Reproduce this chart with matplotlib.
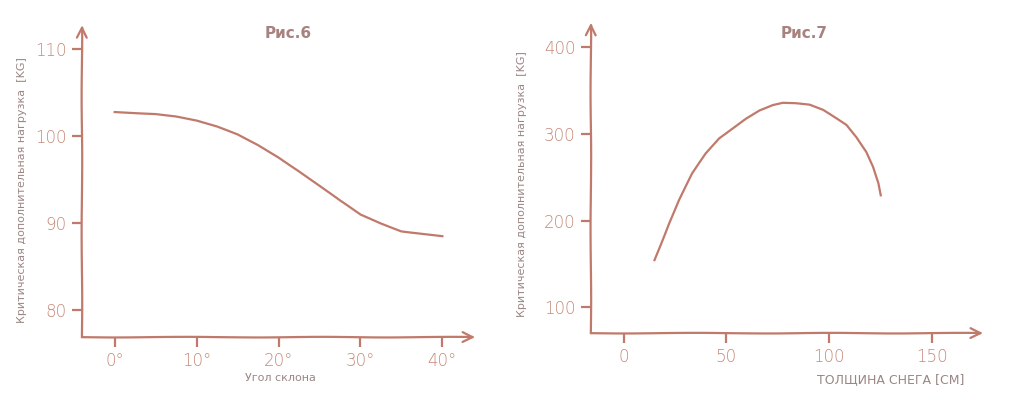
import matplotlib
matplotlib.use("Agg")
import matplotlib.pyplot as plt

# Рис.6 - угол склона vs нагрузка
angle = [0, 2.5, 5, 7.5, 10, 12.5, 15, 17.5, 20, 22.5, 25, 27.5, 30, 32.5, 35, 37.5, 40]
load6 = [102.8, 102.7, 102.6, 102.3, 101.8, 101.1, 100.2, 99.0, 97.6, 96.0, 94.3, 92.6, 91.0, 90.0, 89.1, 88.8, 88.5]

# Рис.7 - толщина снега vs нагрузка
depth = [15, 17.9, 22, 26.9, 33.4, 40, 46.5, 53, 59.5, 66.1, 72.6, 77.5, 84,
         90.5, 97.1, 103.6, 108.5, 113.4, 118.3, 121.5, 124, 125.1]
load7 = [154.5, 171.7, 196.7, 223.5, 254, 277, 294.5, 306, 317.5, 327, 333, 335.5,
         334.8, 333, 327, 317.5, 310, 296, 279, 262, 243, 229]

xt6 = [0, 10, 20, 30, 40]
xt6_lab = ["0°", "10°", "20°", "30°", "40°"]
yt6 = [80, 90, 100, 110]
xt7 = [0, 50, 100, 150]
yt7 = [100, 200, 300, 400]

line_c = "#c07a6c"
tick_c = "#c58878"
title_c = "#a8827e"
label_c = "#9a8784"

plt.xkcd(scale=0.3, length=150, randomness=2)
plt.rcParams["font.family"] = ["DejaVu Sans"]
plt.rcParams["path.effects"] = []

fig = plt.figure(figsize=(10.24, 3.99), dpi=100)
ax1 = fig.add_axes([0.080, 0.155, 0.384, 0.782])
ax2 = fig.add_axes([0.577, 0.165, 0.383, 0.778])


def style(ax):
    for s in ax.spines.values():
        s.set_visible(False)
    for xy in [(1, 0), (0, 1)]:
        ax.annotate("", xy=xy, xytext=(0, 0), xycoords="axes fraction",
                    arrowprops=dict(arrowstyle="->", color=line_c, lw=1.6,
                                    mutation_scale=18, shrinkA=0, shrinkB=0))
    ax.tick_params(colors=line_c, labelcolor=tick_c, width=1.6, length=7,
                   labelsize=12, pad=4)
    for t in ax.get_xticklabels() + ax.get_yticklabels():
        t.set_fontweight("light")


ax1.plot(angle, load6, color=line_c, lw=1.6)
ax1.set_xlim(-4, 44)
ax1.set_ylim(76.9, 112.8)
ax1.set_xticks(xt6)
ax1.set_xticklabels(xt6_lab)
ax1.set_yticks(yt6)
style(ax1)

ax2.plot(depth, load7, color=line_c, lw=1.6)
ax2.set_xlim(-16, 175)
ax2.set_ylim(70.4, 427.6)
ax2.set_xticks(xt7)
ax2.set_yticks(yt7)
style(ax2)

fig.text(288 / 1024, 1 - 33 / 399, "Рис.6", color=title_c, fontsize=11,
         fontweight="bold", ha="center", va="center")
fig.text(804 / 1024, 1 - 33 / 399, "Рис.7", color=title_c, fontsize=11,
         fontweight="bold", ha="center", va="center")

fig.text(22 / 1024, 1 - 190 / 399, "Критическая дополнительная нагрузка  [KG]",
         color=label_c, fontsize=8, rotation=90, ha="center", va="center")
fig.text(522 / 1024, 1 - 184 / 399, "Критическая дополнительная нагрузка  [KG]",
         color=label_c, fontsize=8, rotation=90, ha="center", va="center")
fig.text(280 / 1024, 1 - 378 / 399, "Угол склона", color=label_c, fontsize=8,
         ha="center", va="center")
fig.text(891 / 1024, 1 - 380 / 399, "ТОЛЩИНА СНЕГА [CM]", color=label_c,
         fontsize=9, ha="center", va="center")

fig.savefig("out.png", dpi=100, facecolor="white")
